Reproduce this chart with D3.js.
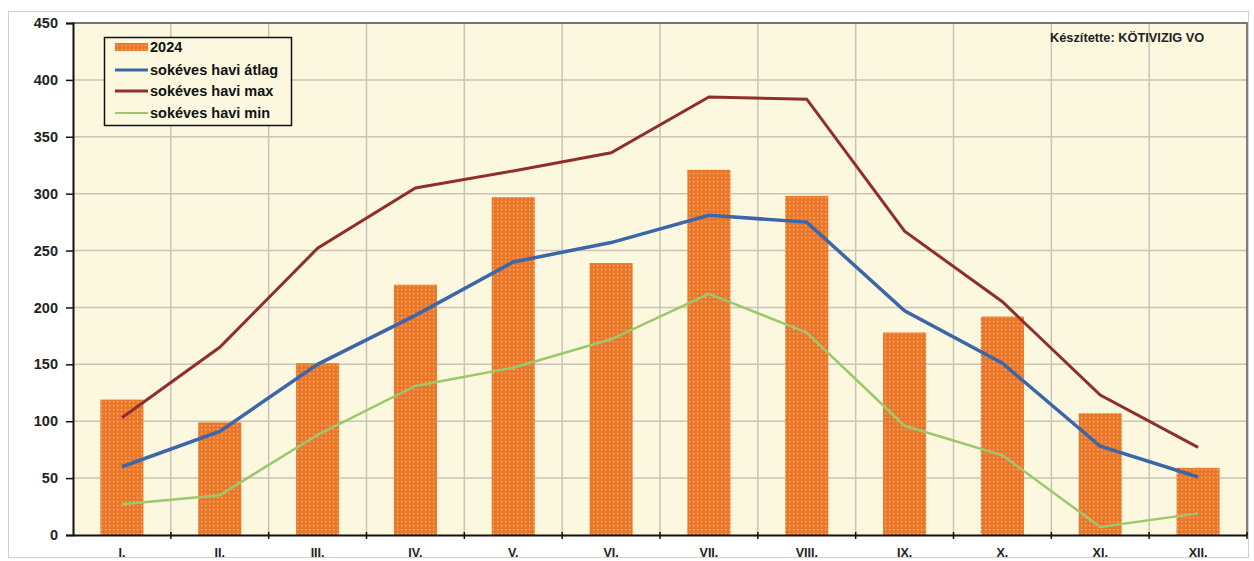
<!DOCTYPE html>
<html><head><meta charset="utf-8">
<script src="https://cdn.jsdelivr.net/npm/d3@7"></script>
<style>body{margin:0;background:#fff;} svg{display:block;font-family:Arial,"Liberation Sans",sans-serif;}</style>
</head><body>
<svg id="c" width="1254" height="561"></svg>
<script>
const categories = ["I.","II.","III.","IV.","V.","VI.","VII.","VIII.","IX.","X.","XI.","XII."];
const values2024 = [119, 99, 151, 220, 297, 239, 321, 298, 178, 192, 107, 59];
const avgValues = [60, 91, 150, 193, 240, 257, 281, 275, 197, 151, 78, 51];
const maxValues = [103, 165, 252, 305, 320, 336, 385, 383, 267, 205, 123, 77];
const minValues = [27, 35, 88, 131, 147, 172, 212, 178, 96, 70, 7, 19];
const yTicks = [0, 50, 100, 150, 200, 250, 300, 350, 400, 450];
const legendLabels = ["2024", "sokéves havi átlag", "sokéves havi max", "sokéves havi min"];
const creditText = "Készítette: KÖTIVIZIG VO";

const svg = d3.select("#c");
const L = 73, R = 1247, T = 23, B = 535;

// outer frame
svg.append("rect").attr("x",8.5).attr("y",11.5).attr("width",1240).attr("height",546)
  .attr("fill","#fff").attr("stroke","#d0d0d0").attr("stroke-width",1);

const x = d3.scaleBand().domain(categories).range([L, R]).paddingInner(0).paddingOuter(0);
const y = d3.scaleLinear().domain([0, 450]).range([B, T]);

const defs = svg.append("defs");
const pat = defs.append("pattern").attr("id","dots").attr("patternUnits","userSpaceOnUse")
  .attr("width",4).attr("height",4);
pat.append("rect").attr("width",4).attr("height",4).attr("fill","#E8782A");
pat.append("rect").attr("x",1).attr("y",1).attr("width",1.2).attr("height",1.2).attr("fill","#F6C79C");

// plot bg
svg.append("rect").attr("x",L).attr("y",T).attr("width",R-L).attr("height",B-T).attr("fill","#FCF8E0");

// grid
svg.append("g").selectAll("line").data(yTicks.slice(1)).join("line")
  .attr("x1",L).attr("x2",R).attr("y1",d=>y(d)).attr("y2",d=>y(d))
  .attr("stroke","#C9C3B8").attr("stroke-width",1.5);
svg.append("g").selectAll("line").data(categories.slice(1)).join("line")
  .attr("x1",d=>x(d)).attr("x2",d=>x(d)).attr("y1",T).attr("y2",B)
  .attr("stroke","#C9C3B8").attr("stroke-width",1.5);

// plot border top/right
svg.append("path").attr("d",`M${L},${T}H${R}V${B}`).attr("fill","none").attr("stroke","#555").attr("stroke-width",1.5);

// bars
const bw = x.bandwidth()*0.44;
svg.append("g").selectAll("rect").data(values2024).join("rect")
  .attr("x",(d,i)=>x(categories[i])+x.bandwidth()/2-bw/2)
  .attr("width",bw)
  .attr("y",d=>y(d)).attr("height",d=>B-y(d))
  .attr("fill","url(#dots)");

// lines
const cx = (d,i)=>x(categories[i])+x.bandwidth()/2;
const line = d3.line().x(cx).y(d=>y(d));
svg.append("path").datum(maxValues).attr("d",line).attr("fill","none").attr("stroke","#8E2F2C").attr("stroke-width",3);
svg.append("path").datum(minValues).attr("d",line).attr("fill","none").attr("stroke","#9CC86B").attr("stroke-width",2.5);
svg.append("path").datum(avgValues).attr("d",line).attr("fill","none").attr("stroke","#3B66A9").attr("stroke-width",3.5);

// axes
const yAxis = d3.axisLeft(y).tickValues(yTicks).tickSize(7).tickPadding(8);
const gy = svg.append("g").attr("transform",`translate(${L},0)`).call(yAxis);
gy.select(".domain").attr("stroke","#111").attr("stroke-width",2);
gy.selectAll(".tick line").attr("stroke","#111").attr("stroke-width",1.5);
gy.selectAll(".tick text").attr("font-size",14.5).attr("font-weight","bold").attr("fill","#222");

const xAxis = d3.axisBottom(x).tickSize(0).tickPadding(13);
const gx = svg.append("g").attr("transform",`translate(0,${B})`).call(xAxis);
gx.select(".domain").attr("stroke","#111").attr("stroke-width",2);
gx.selectAll(".tick text").attr("font-size",12.5).attr("font-weight","bold").attr("fill","#222");
svg.append("g").selectAll("line").data(categories.slice(1).concat(["__end"])).join("line")
  .attr("x1",d=>d==="__end"?R:x(d)).attr("x2",d=>d==="__end"?R:x(d))
  .attr("y1",B-3).attr("y2",B+4).attr("stroke","#111").attr("stroke-width",1.5);

// credit
svg.append("text").attr("x",1050).attr("y",42).attr("font-size",12.8).attr("font-weight","bold")
  .attr("fill","#222").text(creditText);

// legend
const lg = svg.append("g");
lg.append("rect").attr("x",104.5).attr("y",37.5).attr("width",187).attr("height",88)
  .attr("fill","#FCF8E0").attr("stroke","#111").attr("stroke-width",1.5);
const ly = [47, 70, 91, 113];
const lcol = [null, "#3B66A9", "#8E2F2C", "#9CC86B"];
const lw = [0, 3, 3, 2];
legendLabels.forEach((t,i)=>{
  if(i===0){
    lg.append("rect").attr("x",115).attr("y",ly[i]-4).attr("width",33).attr("height",8).attr("fill","url(#dots)");
  } else {
    lg.append("line").attr("x1",115).attr("x2",148).attr("y1",ly[i]).attr("y2",ly[i])
      .attr("stroke",lcol[i]).attr("stroke-width",lw[i]);
  }
  lg.append("text").attr("x",150).attr("y",ly[i]+5).attr("font-size",14.5).attr("font-weight","bold")
    .attr("fill","#111").text(t);
});
</script>
</body></html>
